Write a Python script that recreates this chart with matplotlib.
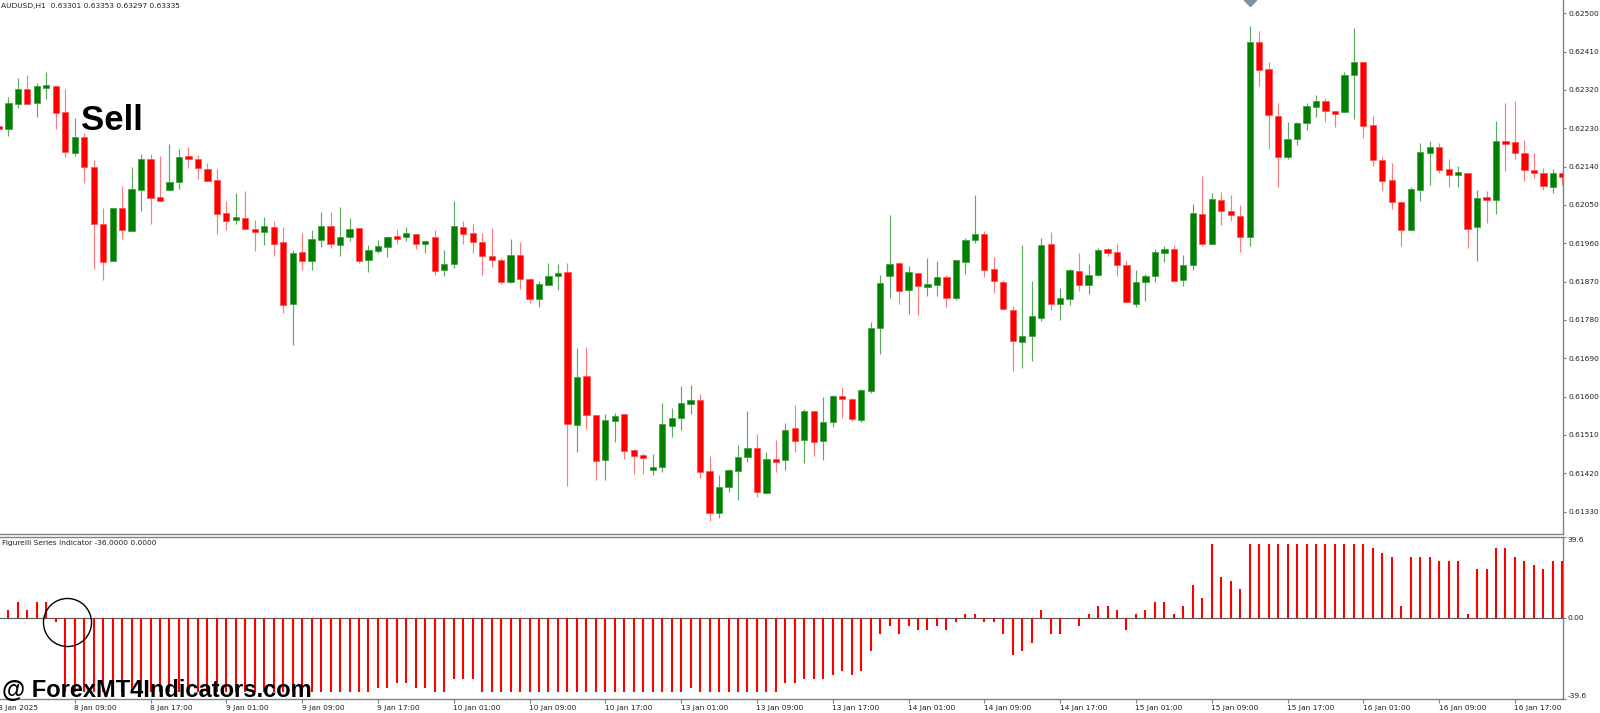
import numpy as np
import matplotlib
matplotlib.use("Agg")
import matplotlib.pyplot as plt
from matplotlib.transforms import blended_transform_factory

W, H = 1600, 713

# bar -1 is the 8 Jan 01:00 candle, cut by the left edge
bars = np.arange(-1, 165)

opens = [
    0.62236, 0.62229, 0.62288, 0.62322, 0.62289, 0.62327, 0.62329, 0.62268, 0.62173, 0.62209,
    0.62140, 0.62006, 0.61918, 0.62043, 0.61988, 0.62085, 0.62159, 0.62069, 0.62084, 0.62105,
    0.62163, 0.62159, 0.62134, 0.62109, 0.62031, 0.62015, 0.62019, 0.61992, 0.61986, 0.61998,
    0.61962, 0.61817, 0.61939, 0.61918, 0.61968, 0.62001, 0.61956, 0.61974, 0.61995, 0.61920,
    0.61943, 0.61952, 0.61975, 0.61974, 0.61982, 0.61959, 0.61974, 0.61897, 0.61911, 0.61998,
    0.61983, 0.61962, 0.61930, 0.61920, 0.61868, 0.61933, 0.61876, 0.61830, 0.61862, 0.61883,
    0.61892, 0.61533, 0.61648, 0.61556, 0.61450, 0.61543, 0.61558, 0.61474, 0.61460, 0.61428,
    0.61435, 0.61532, 0.61550, 0.61583, 0.61591, 0.61425, 0.61326, 0.61388, 0.61425, 0.61458,
    0.61479, 0.61373, 0.61453, 0.61452, 0.61526, 0.61497, 0.61566, 0.61496, 0.61540, 0.61599,
    0.61594, 0.61545, 0.61614, 0.61762, 0.61884, 0.61913, 0.61850, 0.61891, 0.61858, 0.61862,
    0.61880, 0.61832, 0.61916, 0.61968, 0.61982, 0.61899, 0.61869, 0.61804, 0.61728, 0.61742,
    0.61785, 0.61958, 0.61818, 0.61829, 0.61894, 0.61863, 0.61886, 0.61946, 0.61940, 0.61909,
    0.61818, 0.61868, 0.61883, 0.61938, 0.61946, 0.61873, 0.61910, 0.62029, 0.61959, 0.62062,
    0.62036, 0.62025, 0.61975, 0.62433, 0.62369, 0.62260, 0.62162, 0.62206, 0.62242, 0.62281,
    0.62294, 0.62270, 0.62268, 0.62354, 0.62386, 0.62238, 0.62156, 0.62109, 0.62058, 0.61990,
    0.62085, 0.62173, 0.62187, 0.62134, 0.62122, 0.62124, 0.61998, 0.62068, 0.62062, 0.62199,
    0.62198, 0.62172, 0.62132, 0.62124, 0.62091, 0.62124,
]
highs = [
    0.62238, 0.62303, 0.62347, 0.62354, 0.62336, 0.62363, 0.62329, 0.62322, 0.62254, 0.62218,
    0.62155, 0.62043, 0.62043, 0.62095, 0.62140, 0.62169, 0.62170, 0.62166, 0.62193, 0.62182,
    0.62187, 0.62167, 0.62149, 0.62134, 0.62059, 0.62077, 0.62082, 0.62015, 0.62022, 0.62012,
    0.61998, 0.61945, 0.61984, 0.61990, 0.62033, 0.62033, 0.62045, 0.62019, 0.61995, 0.61956,
    0.61968, 0.61978, 0.61993, 0.61998, 0.61982, 0.61964, 0.61991, 0.61944, 0.62059, 0.62012,
    0.62005, 0.61983, 0.61995, 0.61925, 0.61971, 0.61964, 0.61879, 0.61872, 0.61914, 0.61911,
    0.61914, 0.61715, 0.61716, 0.61556, 0.61559, 0.61562, 0.61558, 0.61476, 0.61467, 0.61465,
    0.61585, 0.61573, 0.61624, 0.61628, 0.61607, 0.61461, 0.61415, 0.61431, 0.61486, 0.61566,
    0.61512, 0.61469, 0.61498, 0.61537, 0.61580, 0.61572, 0.61566, 0.61598, 0.61603, 0.61622,
    0.61597, 0.61619, 0.61775, 0.61885, 0.62026, 0.61915, 0.61906, 0.61891, 0.61926, 0.61918,
    0.61886, 0.61920, 0.61972, 0.62073, 0.61988, 0.61928, 0.61874, 0.61813, 0.61955, 0.61872,
    0.61973, 0.61987, 0.61856, 0.61899, 0.61937, 0.61911, 0.61950, 0.61950, 0.61958, 0.61918,
    0.61897, 0.61888, 0.61946, 0.61954, 0.61955, 0.61932, 0.62052, 0.62118, 0.62078, 0.62080,
    0.62073, 0.62051, 0.62469, 0.62458, 0.62386, 0.62289, 0.62245, 0.62245, 0.62290, 0.62307,
    0.62301, 0.62270, 0.62362, 0.62466, 0.62386, 0.62260, 0.62163, 0.62149, 0.62060, 0.62093,
    0.62196, 0.62199, 0.62195, 0.62158, 0.62142, 0.62124, 0.62085, 0.62083, 0.62246, 0.62289,
    0.62294, 0.62202, 0.62172, 0.62137, 0.62134, 0.62127,
]
lows = [
    0.62226, 0.62212, 0.62277, 0.62287, 0.62256, 0.62298, 0.62228, 0.62162, 0.62166, 0.62101,
    0.61899, 0.61873, 0.61918, 0.61969, 0.61988, 0.62036, 0.62006, 0.62060, 0.62084, 0.62087,
    0.62137, 0.62110, 0.62106, 0.61981, 0.61991, 0.62006, 0.61993, 0.61943, 0.61956, 0.61930,
    0.61797, 0.61722, 0.61897, 0.61897, 0.61952, 0.61949, 0.61929, 0.61966, 0.61913, 0.61893,
    0.61938, 0.61927, 0.61959, 0.61966, 0.61946, 0.61937, 0.61886, 0.61882, 0.61901, 0.61959,
    0.61936, 0.61886, 0.61905, 0.61865, 0.61866, 0.61853, 0.61820, 0.61810, 0.61862, 0.61850,
    0.61391, 0.61469, 0.61525, 0.61405, 0.61405, 0.61493, 0.61454, 0.61418, 0.61418, 0.61417,
    0.61422, 0.61504, 0.61522, 0.61558, 0.61410, 0.61308, 0.61314, 0.61376, 0.61358, 0.61446,
    0.61364, 0.61371, 0.61422, 0.61428, 0.61471, 0.61445, 0.61460, 0.61452, 0.61529, 0.61549,
    0.61543, 0.61540, 0.61609, 0.61701, 0.61832, 0.61818, 0.61793, 0.61792, 0.61837, 0.61837,
    0.61811, 0.61826, 0.61887, 0.61961, 0.61881, 0.61844, 0.61803, 0.61659, 0.61667, 0.61684,
    0.61778, 0.61803, 0.61780, 0.61815, 0.61849, 0.61841, 0.61883, 0.61931, 0.61883, 0.61821,
    0.61811, 0.61825, 0.61868, 0.61916, 0.61869, 0.61860, 0.61897, 0.61953, 0.61958, 0.62003,
    0.62012, 0.61940, 0.61954, 0.62329, 0.62182, 0.62093, 0.62157, 0.62191, 0.62227, 0.62257,
    0.62245, 0.62234, 0.62268, 0.62252, 0.62208, 0.62141, 0.62085, 0.62040, 0.61954, 0.61990,
    0.62060, 0.62096, 0.62126, 0.62091, 0.62091, 0.61948, 0.61918, 0.62007, 0.62029, 0.62130,
    0.62158, 0.62107, 0.62114, 0.62086, 0.62079, 0.62098,
]
closes = [
    0.62228, 0.62290, 0.62322, 0.62288, 0.62329, 0.62329, 0.62266, 0.62174, 0.62210, 0.62140,
    0.62006, 0.61917, 0.62043, 0.61990, 0.62087, 0.62157, 0.62066, 0.62060, 0.62104, 0.62163,
    0.62160, 0.62137, 0.62106, 0.62029, 0.62013, 0.62022, 0.61993, 0.61987, 0.62000, 0.61959,
    0.61815, 0.61937, 0.61919, 0.61969, 0.62000, 0.61959, 0.61975, 0.61993, 0.61919, 0.61944,
    0.61953, 0.61975, 0.61972, 0.61983, 0.61959, 0.61964, 0.61895, 0.61912, 0.62000, 0.61981,
    0.61963, 0.61931, 0.61920, 0.61868, 0.61932, 0.61877, 0.61830, 0.61864, 0.61882, 0.61890,
    0.61535, 0.61646, 0.61556, 0.61449, 0.61544, 0.61555, 0.61473, 0.61460, 0.61457, 0.61435,
    0.61535, 0.61550, 0.61586, 0.61593, 0.61424, 0.61327, 0.61388, 0.61428, 0.61458, 0.61479,
    0.61375, 0.61454, 0.61449, 0.61522, 0.61496, 0.61566, 0.61494, 0.61540, 0.61601, 0.61595,
    0.61547, 0.61616, 0.61761, 0.61866, 0.61912, 0.61848, 0.61893, 0.61859, 0.61864, 0.61880,
    0.61832, 0.61920, 0.61968, 0.61982, 0.61898, 0.61871, 0.61806, 0.61730, 0.61742, 0.61789,
    0.61957, 0.61818, 0.61832, 0.61897, 0.61862, 0.61886, 0.61944, 0.61936, 0.61909, 0.61821,
    0.61868, 0.61884, 0.61940, 0.61947, 0.61871, 0.61909, 0.62030, 0.61959, 0.62063, 0.62036,
    0.62026, 0.61975, 0.62432, 0.62366, 0.62261, 0.62162, 0.62205, 0.62242, 0.62283, 0.62293,
    0.62270, 0.62264, 0.62354, 0.62386, 0.62235, 0.62155, 0.62107, 0.62058, 0.61990, 0.62087,
    0.62174, 0.62185, 0.62132, 0.62121, 0.62127, 0.61994, 0.62066, 0.62063, 0.62199, 0.62195,
    0.62173, 0.62133, 0.62126, 0.62094, 0.62125, 0.62116,
]

# Figurelli Series histogram, same bars
figurelli = [
    4, 4, 8, 4, 8, 8, -2, -36, -36, -36,
    -36, -36, -36, -36, -36, -36, -36, -36, -36, -36,
    -36, -36, -36, -36, -36, -36, -36, -36, -36, -36,
    -36, -36, -36, -36, -36, -36, -36, -36, -36, -36,
    -34, -34, -32, -32, -34, -34, -36, -36, -30, -30,
    -30, -36, -36, -36, -36, -36, -36, -36, -36, -36,
    -36, -36, -36, -36, -36, -36, -36, -36, -36, -36,
    -36, -36, -36, -34, -36, -36, -36, -36, -36, -36,
    -36, -36, -36, -32, -32, -30, -30, -30, -28, -26,
    -28, -26, -16, -8, -4, -8, -4, -6, -6, -4,
    -6, -2, 2, 2, -2, -2, -8, -18, -16, -12,
    4, -8, -8, 0, -4, 2, 6, 6, 4, -6,
    2, 4, 8, 8, 2, 6, 16, 10, 36, 20,
    18, 14, 36, 36, 36, 36, 36, 36, 36, 36,
    36, 36, 36, 36, 36, 34, 32, 30, 6, 30,
    30, 30, 28, 28, 28, 2, 24, 24, 34, 34,
    30, 28, 26, 24, 28, 28,
]

price_ticks = [0.62500, 0.62410, 0.62320, 0.62230, 0.62140, 0.62050, 0.61960,
               0.61870, 0.61780, 0.61690, 0.61600, 0.61510, 0.61420, 0.61330]
time_ticks = [-1, 7, 15, 23, 31, 39, 47, 55, 63, 71, 79, 87, 95, 103, 111,
              119, 127, 135, 143, 151, 159]
time_labels = ['8 Jan 2025', '8 Jan 09:00', '8 Jan 17:00', '9 Jan 01:00', '9 Jan 09:00',
               '9 Jan 17:00', '10 Jan 01:00', '10 Jan 09:00', '10 Jan 17:00',
               '13 Jan 01:00', '13 Jan 09:00', '13 Jan 17:00', '14 Jan 01:00',
               '14 Jan 09:00', '14 Jan 17:00', '15 Jan 01:00', '15 Jan 09:00',
               '15 Jan 17:00', '16 Jan 01:00', '16 Jan 09:00', '16 Jan 17:00']

o = np.array(opens)
h = np.array(highs)
l = np.array(lows)
c = np.array(closes)
up = c >= o

fig = plt.figure(figsize=(W / 100, H / 100), dpi=100)
fig.patch.set_facecolor('white')


def px_axes(left, top, right, bottom):
    return fig.add_axes([left / W, 1 - bottom / H, (right - left) / W, (bottom - top) / H])


ax = px_axes(0, 0, 1563, 534)
axi = px_axes(0, 537, 1563, 699)

xlim = (-0.887, 164.07)
GRAY = '#808080'
SMALL = 5.4

# --- candles
wick_col = np.where(up, '#5fa85f', '#ff7a7a')
ax.vlines(bars, l, h, colors=wick_col, lw=0.85, zorder=2)
body_h = np.maximum(np.abs(c - o), 0.00007)
body_bot = (o + c) / 2 - body_h / 2
ax.bar(bars, body_h, bottom=body_bot, width=0.66,
       color=np.where(up, '#008000', '#ff0000'),
       edgecolor=np.where(up, '#3c9a3c', '#ff5050'), linewidth=0.5, zorder=3)

ax.set_xlim(*xlim)
ax.set_ylim(0.612774, 0.625312)
ax.set_xticks([])
ax.yaxis.tick_right()
ax.set_yticks(price_ticks)
ax.set_yticklabels([f'{p:.5f}' for p in price_ticks])
ax.tick_params(axis='y', length=2.5, width=0.8, color=GRAY, pad=1.8,
               labelsize=SMALL, labelcolor='#202020')
for s in ('left', 'top'):
    ax.spines[s].set_visible(False)
for s in ('bottom', 'right'):
    ax.spines[s].set_color(GRAY)
    ax.spines[s].set_linewidth(1.0)

# small object marker at the top edge
ax.plot([131], [0.625312], marker='D', ms=6, color='#7f93a6', clip_on=True, zorder=4)

# --- indicator panel
axi.vlines(bars, 0, figurelli, colors='#ff0000', lw=1.5, zorder=3)
axi.axhline(0, color='#5a5a5a', lw=0.8, zorder=2)
axi.set_xlim(*xlim)
axi.set_ylim(-39.6, 39.6)
axi.yaxis.tick_right()
axi.set_yticks([-39.6, 0, 39.6])
axi.set_yticklabels(['', '', ''])
axi.tick_params(axis='y', length=2.5, width=0.8, color=GRAY)
axi.set_xticks(time_ticks[1:])
axi.set_xticklabels([])
axi.tick_params(axis='x', length=3, width=0.8, color=GRAY)
axi.spines['left'].set_visible(False)
for s in ('top', 'bottom', 'right'):
    axi.spines[s].set_color(GRAY)
    axi.spines[s].set_linewidth(1.0)

ytr = blended_transform_factory(axi.transAxes, axi.transData)
axi.text(1.0028, 39.6, '39.6', transform=ytr, va='top', ha='left', fontsize=SMALL, color='#202020')
axi.text(1.0028, 0, '0.00', transform=ytr, va='center', ha='left', fontsize=SMALL, color='#202020')
axi.text(1.0028, -39.6, '-39.6', transform=ytr, va='bottom', ha='left', fontsize=SMALL, color='#202020')

xtr = blended_transform_factory(axi.transData, axi.transAxes)
for t, lab in zip(time_ticks, time_labels):
    axi.text(t - 0.05, -0.054, lab, transform=xtr, ha='left', va='center',
             fontsize=SMALL, color='#202020', clip_on=False)

# circle around the zero cross
axi.plot([6.22], [-1.8], 'o', ms=34.6, mfc='none', mec='black', mew=1.0,
         clip_on=False, zorder=5)

# --- texts
fig.text(1 / W, 1 - 6 / H, 'AUDUSD,H1  0.63301 0.63353 0.63297 0.63335',
         fontsize=SMALL, va='center', ha='left', color='#202020')
fig.text(2 / W, 1 - 543 / H, 'Figurelli Series Indicator -36.0000 0.0000',
         fontsize=SMALL, va='center', ha='left', color='#202020')
fig.text(81 / W, 1 - 130 / H, 'Sell', fontsize=25, fontweight='bold',
         family=['Liberation Sans', 'DejaVu Sans'], va='baseline', ha='left', color='black')
fig.text(2 / W, 1 - 697 / H, '@ ForexMT4Indicators.com', fontsize=17, fontweight='bold',
         family=['Liberation Sans', 'DejaVu Sans'], va='baseline', ha='left',
         color='black', zorder=10)

fig.savefig('out.png', dpi=100, facecolor='white')
